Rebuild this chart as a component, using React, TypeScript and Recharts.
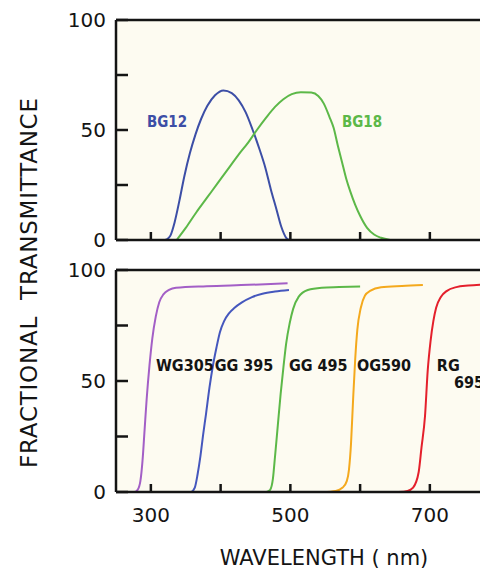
import React from 'react'
import {
  LineChart, Line, XAxis, YAxis, CartesianGrid, ReferenceLine, ReferenceDot
} from 'recharts'

// [wavelength nm, transmittance %]
const bg12 = [[320, 0], [323, 0.3], [328, 2], [334, 8], [341, 18], [348, 29], [356, 39.5], [364, 48], [372, 55], [381, 61], [392, 65.8], [404, 68], [416, 66.8], [426, 63.5], [436, 58], [446, 50], [456, 41], [464, 33], [472, 23], [480, 14], [487, 6], [494, 1], [498, 0]]
const bg18 = [[337, 0], [350, 5.5], [365, 12.5], [380, 19], [395, 25.5], [410, 32], [425, 38.5], [440, 44.5], [452, 50], [465, 55.5], [478, 60.5], [490, 64], [502, 66.3], [515, 67.2], [530, 67], [540, 65.5], [548, 62], [556, 56], [562, 51], [568, 43], [574, 35.5], [580, 28], [586, 22], [593, 16], [600, 11], [610, 5.5], [620, 2.5], [630, 1], [643, 0]]

const wg305 = [[257, 0], [276, 0], [281, 1], [285, 5], [288, 14], [291, 28], [294, 42], [298, 57], [302, 69], [307, 79], [312, 85.5], [318, 89], [326, 91], [336, 92], [380, 92.7], [440, 93.3], [496, 94]]
const gg395 = [[358, 0], [363, 2], [367, 8], [371, 16], [375, 26], [379, 35], [384, 47], [389, 57], [394, 65], [399, 72], [405, 77], [412, 80.5], [420, 83], [430, 85.3], [445, 87.8], [460, 89.3], [478, 90.3], [498, 91]]
const gg495 = [[466, 0], [471, 1], [475, 6], [478, 16], [482, 30], [486, 44], [490, 56], [494, 67], [499, 76], [504, 82.5], [512, 88], [525, 91], [545, 92], [570, 92.3], [600, 92.6]]
const og590 = [[547, 0], [565, 0.5], [575, 2], [581, 5], [584, 10], [587, 22], [590, 42], [593, 60], [596, 73], [601, 83], [607, 88.5], [615, 90.7], [630, 92.2], [660, 92.8], [690, 93.2]]
const rg695 = [[655, 0], [668, 0.5], [676, 2], [684, 9], [688, 20], [693, 34], [697, 55], [701, 68], [705, 77], [709, 83], [716, 88], [724, 90.5], [738, 92.3], [755, 93], [780, 93.5]]

const xTicks = [300, 400, 500, 600, 700]
const xLabeled = [300, 500, 700]
const yTicks = [0, 25, 50, 75, 100]
const yLabeled = [0, 50, 100]

const topTags = [
  { text: 'BG12', wl: 294.4, t: 54, color: '#3c4ea6' },
  { text: 'BG18', wl: 574, t: 54, color: '#5cb848' },
]
const bottomTags = [
  { text: 'WG305', wl: 307.3, t: 57.2 },
  { text: 'GG 395', wl: 391.5, t: 57.2 },
  { text: 'GG 495', wl: 498, t: 57.2 },
  { text: 'OG590', wl: 595.5, t: 57.2 },
  { text: 'RG', wl: 710, t: 57.2 },
  { text: '695', wl: 734.6, t: 49.5 },
]

const toRows = (pts: number[][]) => pts.map(([wl, t]) => ({ wl, t }))

const INK = '#141414'
const FONT = '"DejaVu Sans", sans-serif'
const TAG_FONT = '"DejaVu Sans Condensed", "DejaVu Sans", sans-serif'
const PAPER = '#fdfbf1'

const XTick = ({ x, y, payload, showLabel }: any) => (
  <g>
    <line x1={x} y1={y} x2={x} y2={y - 8} stroke={INK} strokeWidth={2.5} />
    {showLabel && xLabeled.includes(payload.value) && (
      <text x={x} y={y + 30} textAnchor="middle" fontSize={20} fontFamily={FONT} fill={INK}>
        {payload.value}
      </text>
    )}
  </g>
)

const YTick = ({ x, y, payload }: any) => (
  <g>
    <line x1={x} y1={y} x2={x + 12} y2={y} stroke={INK} strokeWidth={2.5} />
    {yLabeled.includes(payload.value) && (
      <text x={x - 10} y={y} dy="0.36em" textAnchor="end" fontSize={20} fontFamily={FONT} fill={INK}>
        {payload.value}
      </text>
    )}
  </g>
)

const tagLabel = (text: string, color: string, size: number) => (props: any) => {
  const vb = props.viewBox || {}
  return (
    <text x={vb.x} y={vb.y} dy="0.36em" fill={color} fontSize={size} fontWeight="bold" fontFamily={TAG_FONT}>
      {text}
    </text>
  )
}

const CHART_W = 520
const MARGIN_R = 20.4

export default function App() {
  return (
    <div style={{ position: 'absolute', left: 0, top: 0, width: 480, height: 569, overflow: 'hidden', background: '#fff' }}>
      <svg width={60} height={569} style={{ position: 'absolute', left: 0, top: 0 }}>
        <text
          transform="translate(37, 283) rotate(-90)"
          textAnchor="middle"
          fontSize={23}
          fontFamily={FONT}
          fill={INK}
          textLength={370}
          lengthAdjust="spacing"
        >
          FRACTIONAL{'\u00a0\u00a0'}TRANSMITTANCE
        </text>
      </svg>

      <div style={{ position: 'absolute', left: 0, top: 0 }}>
        <LineChart width={CHART_W} height={256} margin={{ top: 20, right: MARGIN_R, bottom: 0, left: 0 }}>
          <CartesianGrid fill={PAPER} stroke="none" horizontal={false} vertical={false} />
          <XAxis
            type="number" dataKey="wl" domain={[250, 800]} ticks={xTicks} height={16}
            allowDataOverflow tickLine={false} tickSize={0} tickMargin={0}
            axisLine={{ stroke: INK, strokeWidth: 2.5 }}
            tick={<XTick showLabel={false} />}
          />
          <YAxis
            type="number" domain={[0, 100]} ticks={yTicks} width={116}
            tickLine={false} tickSize={0} tickMargin={0}
            axisLine={{ stroke: INK, strokeWidth: 2.5 }}
            tick={<YTick />}
          />
          <ReferenceLine y={100} stroke={INK} strokeWidth={2.5} />
          <Line data={toRows(bg12)} dataKey="t" type="monotone" stroke="#3c4ea6" strokeWidth={2} dot={false} isAnimationActive={false} />
          <Line data={toRows(bg18)} dataKey="t" type="monotone" stroke="#5cb848" strokeWidth={2} dot={false} isAnimationActive={false} />
          {topTags.map((g) => (
            <ReferenceDot key={g.text} x={g.wl} y={g.t} r={0} fill="none" stroke="none"
              label={{ content: tagLabel(g.text, g.color, 15) }} />
          ))}
        </LineChart>
      </div>

      <div style={{ position: 'absolute', left: 0, top: 250 }}>
        <LineChart width={CHART_W} height={330} margin={{ top: 20, right: MARGIN_R, bottom: 0, left: 0 }}>
          <CartesianGrid fill={PAPER} stroke="none" horizontal={false} vertical={false} />
          <XAxis
            type="number" dataKey="wl" domain={[250, 800]} ticks={xTicks} height={88}
            allowDataOverflow tickLine={false} tickSize={0} tickMargin={0}
            axisLine={{ stroke: INK, strokeWidth: 2.5 }}
            tick={<XTick showLabel />}
            label={{
              content: (p: any) => {
                const vb = p.viewBox || {}
                return (
                  <text x={vb.x + 208} y={vb.y + 73} textAnchor="middle" fontSize={21} fontFamily={FONT} fill={INK}>
                    WAVELENGTH ( nm)
                  </text>
                )
              },
            }}
          />
          <YAxis
            type="number" domain={[0, 100]} ticks={yTicks} width={116}
            tickLine={false} tickSize={0} tickMargin={0}
            axisLine={{ stroke: INK, strokeWidth: 2.5 }}
            tick={<YTick />}
          />
          <ReferenceLine y={100} stroke={INK} strokeWidth={2.5} />
          <Line data={toRows(wg305)} dataKey="t" type="monotone" stroke="#a35fc6" strokeWidth={2} dot={false} isAnimationActive={false} />
          <Line data={toRows(gg395)} dataKey="t" type="monotone" stroke="#4557bd" strokeWidth={2} dot={false} isAnimationActive={false} />
          <Line data={toRows(gg495)} dataKey="t" type="monotone" stroke="#5cb848" strokeWidth={2} dot={false} isAnimationActive={false} />
          <Line data={toRows(og590)} dataKey="t" type="monotone" stroke="#f4a91d" strokeWidth={2} dot={false} isAnimationActive={false} />
          <Line data={toRows(rg695)} dataKey="t" type="monotone" stroke="#e4202c" strokeWidth={2} dot={false} isAnimationActive={false} />
          {bottomTags.map((g) => (
            <ReferenceDot key={g.text} x={g.wl} y={g.t} r={0} fill="none" stroke="none"
              label={{ content: tagLabel(g.text, INK, 16) }} />
          ))}
        </LineChart>
      </div>
    </div>
  )
}
